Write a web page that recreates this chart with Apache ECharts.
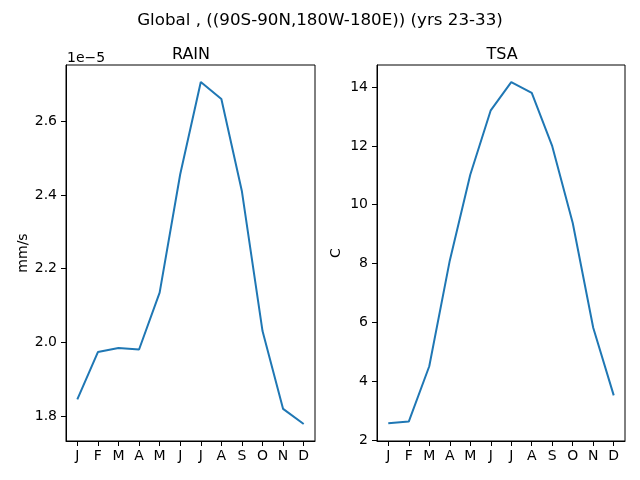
<!DOCTYPE html>
<html lang="en">
<head>
	<meta charset="utf-8"/>
	<title>Global RAIN / TSA</title>
	<script src="https://cdn.jsdelivr.net/npm/echarts@6/dist/echarts.min.js"></script>
	<style>
		html, body { margin: 0; padding: 0; background: #fff; }
		#main { width: 640px; height: 480px; }
	</style>
</head>
<body>
<div id="main"></div>
<script type="text/javascript">
	// month labels
	var months = ['J', 'F', 'M', 'A', 'M', 'J', 'J', 'A', 'S', 'O', 'N', 'D'];
	// RAIN in units of 1e-5 mm/s
	var rain = [1.846, 1.974, 1.985, 1.981, 2.135, 2.456, 2.706, 2.660, 2.409, 2.031, 1.820, 1.779];
	// TSA in C
	var tsa = [2.57, 2.63, 4.51, 8.1, 11.02, 13.21, 14.17, 13.80, 11.99, 9.38, 5.82, 3.52];
	var rainTicks = [1.8, 2.0, 2.2, 2.4, 2.6];
	var tsaTicks = [2, 4, 6, 8, 10, 12, 14];

	var font = 'DejaVu Sans';
	var monthIdx = months.map(function (m, i) { return i; });

	function pairs(arr) {
		return arr.map(function (v, i) { return [i, v]; });
	}

	function xAxis(gi) {
		return {
			type: 'value', gridIndex: gi, min: -0.55, max: 11.55,
			axisLine: { show: true, onZero: false, lineStyle: { color: '#000', width: 1 } },
			axisTick: { show: true, customValues: monthIdx, length: 5, lineStyle: { color: '#000', width: 1 } },
			axisLabel: {
				customValues: monthIdx, margin: 8, color: '#000', fontFamily: font, fontSize: 14,
				formatter: function (v) { return months[Math.round(v)]; }
			},
			splitLine: { show: false }
		};
	}

	function yAxis(gi, min, max, ticks, name, digits, gap) {
		return {
			type: 'value', gridIndex: gi, min: min, max: max,
			name: name, nameLocation: 'middle', nameRotate: 90, nameGap: gap,
			nameTextStyle: { color: '#000', fontFamily: font, fontSize: 14 },
			axisLine: { show: true, onZero: false, lineStyle: { color: '#000', width: 1 } },
			axisTick: { show: true, customValues: ticks, length: 5, lineStyle: { color: '#000', width: 1 } },
			axisLabel: {
				customValues: ticks, margin: 9, color: '#000', fontFamily: font, fontSize: 14,
				formatter: function (v) { return v.toFixed(digits); }
			},
			splitLine: { show: false }
		};
	}

	var chart = echarts.init(document.getElementById('main'));
	var option = {
		animation: false,
		backgroundColor: '#fff',
		title: [
			{ text: 'Global , ((90S-90N,180W-180E)) (yrs 23-33)', left: 'center', top: 7,
				textStyle: { fontFamily: font, fontSize: 16.7, fontWeight: 'normal', color: '#000' } },
			{ text: 'RAIN', left: 186, top: 42, textAlign: 'center',
				textStyle: { fontFamily: font, fontSize: 16, fontWeight: 'normal', color: '#000' } },
			{ text: 'TSA', left: 497, top: 42, textAlign: 'center',
				textStyle: { fontFamily: font, fontSize: 16, fontWeight: 'normal', color: '#000' } },
			{ text: '1e\u22125', left: 62, top: 46,
				textStyle: { fontFamily: font, fontSize: 14, fontWeight: 'normal', color: '#000' } }
		],
		grid: [
			{ left: 66, top: 65, width: 249, height: 376, show: true, borderColor: '#000', borderWidth: 1 },
			{ left: 377, top: 65, width: 248, height: 376, show: true, borderColor: '#000', borderWidth: 1 }
		],
		xAxis: [xAxis(0), xAxis(1)],
		yAxis: [
			yAxis(0, 1.733, 2.752, rainTicks, 'mm/s', 1, 36),
			yAxis(1, 1.97, 14.75, tsaTicks, 'C', 0, 34)
		],
		series: [
			{ type: 'line', xAxisIndex: 0, yAxisIndex: 0, data: pairs(rain), showSymbol: false,
				lineStyle: { color: '#1f77b4', width: 2 } },
			{ type: 'line', xAxisIndex: 1, yAxisIndex: 1, data: pairs(tsa), showSymbol: false,
				lineStyle: { color: '#1f77b4', width: 2 } }
		]
	};
	chart.setOption(option);
</script>
</body>
</html>
